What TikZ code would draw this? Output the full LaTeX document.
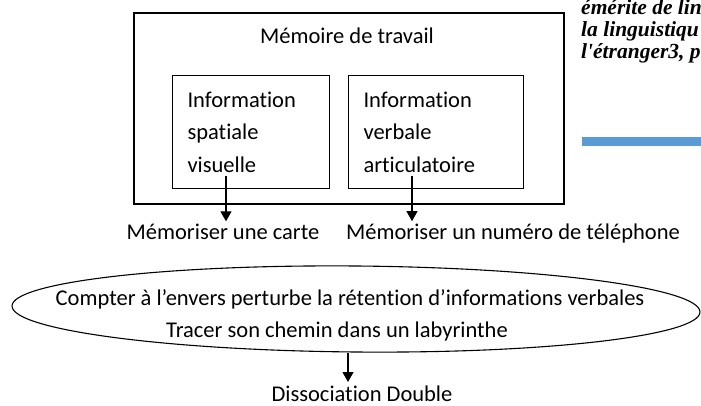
\documentclass[tikz,border=0pt]{standalone}
\usepackage{fontspec}
\setmainfont{Carlito}[Ligatures=NoCommon]
\newfontfamily\docserif{Liberation Serif}
\usetikzlibrary{arrows.meta, shapes.geometric, positioning}
\definecolor{barblue}{RGB}{91,155,213}

\begin{document}
\begin{tikzpicture}[
    x=1pt, y=-1pt,
    box/.style={draw, line width=1.1pt},
    infobox/.style={box, align=left, minimum height=113pt, inner xsep=15pt, anchor=north west, font=\fontsize{22.5}{32.5}\selectfont},
    label/.style={font=\fontsize{22.5}{32.5}\selectfont, anchor=base, inner sep=2pt},
    cutlabel/.style={font=\docserif\bfseries\itshape\fontsize{21.5}{22}\selectfont, anchor=base west, inner sep=0pt},
    arr/.style={line width=1.1pt, -{Triangle[width=11pt,length=10pt]}}
]
    \useasboundingbox (0,0) rectangle (701,406);
    \clip (0,0) rectangle (701,406);

    % Working memory with its two stores
    \node[box, minimum width=430pt, minimum height=191pt] (wm) at (349,108.5) {};
    \node[label] (wmtitle) at (347,44) {Mémoire de travail};
    \node[infobox, text width=127pt] (vis) at (172,75) {Information\\spatiale\\visuelle};
    \node[infobox, text width=145pt] (verb) at (348,75) {Information\\verbale\\articulatoire};

    % Tasks
    \coordinate (vis-out) at (226,176);
    \coordinate (verb-out) at (412,176);
    \node[label] (carte) at (223,239) {Mémoriser une carte};
    \node[label] (tel) at (513,239) {Mémoriser un numéro de téléphone};
    \draw[arr] (vis-out) -- (vis-out |- carte.north);
    \draw[arr] (verb-out) -- (verb-out |- tel.north);

    % Interference
    \node[draw, ellipse, line width=1.1pt, minimum width=688pt, minimum height=86pt, rotate=-0.5] (ell) at (356,309) {};
    \node[label] (ell-top) at (350,305) {Compter à l’envers perturbe la rétention d’informations verbales};
    \node[label] (ell-bot) at (337,337) {Tracer son chemin dans un labyrinthe};

    % Result
    \coordinate (dd-tip) at (348,382);
    \node[label] (dd) at (362,401) {Dissociation Double};
    \draw[arr] (dd-tip |- ell.south) -- (dd-tip);

    % Text of the page beside the figure
    \node[cutlabel] (page-a) at (581,15) {émérite de lin};
    \node[cutlabel] (page-b) at (581,37) {la linguistiqu};
    \node[cutlabel] (page-c) at (581,59) {l'étranger3, p};
    \fill[barblue] (582,137) rectangle (701,146);
\end{tikzpicture}
\end{document}
